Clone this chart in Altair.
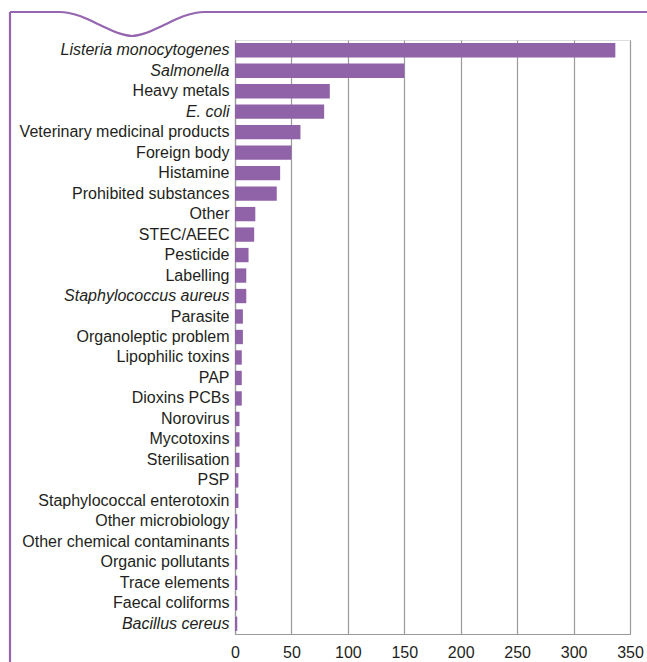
import altair as alt
import pandas as pd

categories = [
    "Listeria monocytogenes", "Salmonella", "Heavy metals", "E. coli",
    "Veterinary medicinal products", "Foreign body", "Histamine",
    "Prohibited substances", "Other", "STEC/AEEC", "Pesticide", "Labelling",
    "Staphylococcus aureus", "Parasite", "Organoleptic problem",
    "Lipophilic toxins", "PAP", "Dioxins PCBs", "Norovirus", "Mycotoxins",
    "Sterilisation", "PSP", "Staphylococcal enterotoxin", "Other microbiology",
    "Other chemical contaminants", "Organic pollutants", "Trace elements",
    "Faecal coliforms", "Bacillus cereus",
]
values = [337, 150, 84, 79, 58, 50, 40, 37, 18, 17, 12, 10, 10, 7, 7, 6, 6, 6,
          4, 4, 4, 3, 3, 2, 2, 2, 2, 2, 2]
italic_labels = ["Listeria monocytogenes", "Salmonella", "E. coli",
                 "Staphylococcus aureus", "Bacillus cereus"]
x_ticks = [0, 50, 100, 150, 200, 250, 300, 350]

# decorative frame (pixel positions relative to plot origin)
frame_x = [10, 60, 80, 100, 118, 132, 146, 164, 184, 204, 647]
frame_y = [12, 12, 16, 25, 33, 36, 33, 25, 16, 12, 12]

PAD_L, PAD_T, PAD_R, PAD_B = 235, 40, 17, 28
W, H = 647 - PAD_L - PAD_R, 662 - PAD_T - PAD_B

FONT = "Liberation Sans"
TEXT = "#231f20"
GRID = "#9a9a9a"

df = pd.DataFrame({"category": categories, "value": values})
frame_df = pd.DataFrame({"fx": [x - PAD_L for x in frame_x],
                         "fy": [y - PAD_T for y in frame_y],
                         "order": list(range(len(frame_x)))})
left_df = pd.DataFrame({"fx": [10 - PAD_L, 10 - PAD_L],
                        "fy": [12 - PAD_T, 662 - PAD_T],
                        "order": [0, 1]})

italic_test = "indexof(" + str(italic_labels).replace("'", '"') + ", datum.value) >= 0"

bars = alt.Chart(df).mark_bar(color="#9063a8").encode(
    x=alt.X("value:Q",
            scale=alt.Scale(domain=[0, 350], nice=False),
            axis=alt.Axis(values=x_ticks, title=None, ticks=False, grid=True,
                          gridColor=GRID, gridWidth=1.2, domainColor=GRID,
                          domainWidth=1.2, labelFontSize=16, labelFont=FONT,
                          labelColor=TEXT, labelPadding=10, labelFlush=False)),
    y=alt.Y("category:N", sort=categories,
            scale=alt.Scale(paddingInner=0.3, paddingOuter=0.15),
            axis=alt.Axis(title=None, ticks=False, domainColor=GRID,
                          domainWidth=1.2, labelFontSize=16, labelFont=FONT,
                          labelColor=TEXT, labelPadding=6, labelLimit=300,
                          labelFontStyle={"condition": {"test": italic_test, "value": "italic"},
                                          "value": "normal"})),
)

frame = alt.Chart(frame_df).mark_line(color="#9565b0", strokeWidth=2.2,
                                       interpolate="monotone", clip=False).encode(
    x=alt.X("fx:Q", scale=None, axis=None),
    y=alt.Y("fy:Q", scale=None, axis=None),
    order="order:Q",
)
left = alt.Chart(left_df).mark_line(color="#9565b0", strokeWidth=2.2, clip=False).encode(
    x=alt.X("fx:Q", scale=None, axis=None),
    y=alt.Y("fy:Q", scale=None, axis=None),
    order="order:Q",
)

chart = alt.layer(bars, frame, left).resolve_scale(
    x="independent", y="independent"
).properties(
    width=W, height=H,
    autosize=alt.AutoSizeParams(type="none"),
    padding={"left": PAD_L, "top": PAD_T, "right": PAD_R, "bottom": PAD_B},
).configure_view(stroke=None).configure(background="white")

chart.save("out.html", embed_options={"renderer": "svg", "actions": False})
